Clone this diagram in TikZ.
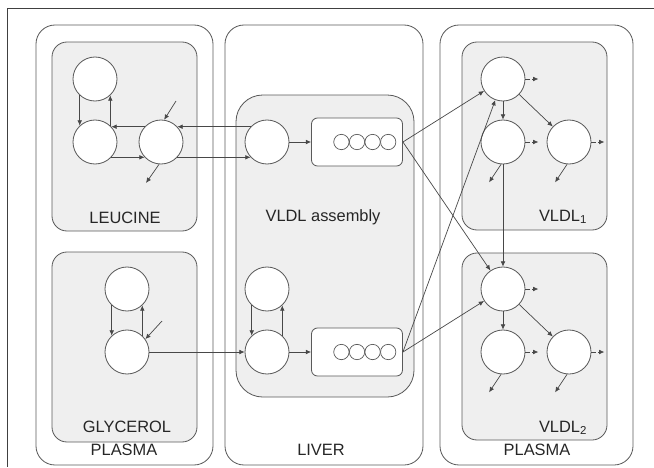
\documentclass[tikz,border=0pt]{standalone}
\usepackage{fontspec}
\setmainfont{Liberation Sans}
\usetikzlibrary{arrows.meta, positioning}
\definecolor{boxgray}{HTML}{EFEFEF}
\definecolor{linegray}{HTML}{5A5A5A}

\tikzset{
  pool/.style={circle, draw=linegray, fill=white, line width=0.7pt, minimum size=1.32cm, inner sep=0pt},
  bead/.style={circle, draw=linegray, fill=white, line width=0.6pt, minimum size=0.46cm, inner sep=0pt},
  particle/.style={rectangle, rounded corners=0.18cm, draw=linegray, fill=white, line width=0.7pt, minimum width=2.73cm, minimum height=1.44cm},
  flow/.style={draw=linegray!80!black, line width=0.6pt, -{Latex[length=4.5pt,width=4pt]}},
  loss/.style={flow, dash pattern=on 3.5pt off 2.5pt},
  panel/.style={draw=linegray, line width=0.7pt, rounded corners=0.57cm},
  compartment/.style={draw=linegray, fill=boxgray, line width=0.7pt, rounded corners=0.45cm},
  tag/.style={font=\fontsize{14}{16}\selectfont, text=black!85}
}

\begin{document}
\begin{tikzpicture}[x=0.03cm, y=-0.03cm]
        \useasboundingbox (0,0) rectangle (654,467);
        \draw[black!75, line width=0.8pt] (654,8) -- (7,8) -- (7,467);

        % plasma, liver, plasma
        \draw[panel] (36,25) rectangle (213,465);
        \draw[panel] (225,25) rectangle (423,465);
        \draw[panel] (440,25) rectangle (633,465);

        \draw[compartment] (52,42) rectangle (197,231);
        \draw[compartment] (52,252) rectangle (197,442);
        \draw[compartment, rounded corners=0.8cm] (236,95) rectangle (414,397);
        \draw[compartment] (462,42) rectangle (607,230);
        \draw[compartment] (462,253) rectangle (607,440);

        \node[tag] (leulabel) at (125,218) {LEUCINE};
        \node[tag] (glylabel) at (127,427) {GLYCEROL};
        \node[tag] (plasmaleft) at (124,450) {PLASMA};
        \node[tag] (asmlabel) at (323,217) {VLDL assembly};
        \node[tag] (liverlabel) at (321,450) {LIVER};
        \node[tag] (vonelabel) at (563,217) {VLDL\textsubscript{1}};
        \node[tag] (vtwolabel) at (563,428) {VLDL\textsubscript{2}};
        \node[tag] (plasmaright) at (537,450) {PLASMA};

        % leucine
        \node[pool] (lt) at (95,79) {};
        \node[pool] (ll) at (95,142) {};
        \node[pool] (lr) at (161,142) {};
        \coordinate (leuin) at (176,101);
        \coordinate (leuout) at (146,183);

        % glycerol
        \node[pool] (gt) at (127,289) {};
        \node[pool] (gb) at (127,352) {};
        \coordinate (glyin) at (162,321);

        % liver
        \node[pool] (lv) at (267,142) {};
        \node[pool] (lg) at (267,289) {};
        \node[pool] (lh) at (267,352) {};
        \node[particle] (ra) at (357,142) {};
        \node[particle] (rb) at (357,352) {};
        \foreach \i in {1,...,4} {
            \node[bead] (pa\i) at ({341.4+15.6*(\i-1)},142) {};
            \node[bead] (pb\i) at ({341.4+15.6*(\i-1)},352) {};
        }

        % VLDL1 and VLDL2
        \node[pool] (v1a) at (503,79) {};
        \node[pool] (v1b) at (503,142) {};
        \node[pool] (v1c) at (569,142) {};
        \node[pool] (v2a) at (503,289) {};
        \node[pool] (v2b) at (503,352) {};
        \node[pool] (v2c) at (569,352) {};

        \draw[flow] (lt.227) -- (ll.133);
        \draw[flow] (ll.47) -- (lt.313);
        \draw[flow] (lv.137) -- (lr.43);
        \draw[flow] (lr.137) -- (ll.43);
        \draw[flow] (ll.317) -- (lr.223);
        \draw[flow] (lr.317) -- (lv.223);
        \draw[flow] (leuin) -- (lr.82);
        \draw[flow] (lr.265) -- (leuout);

        \draw[flow] (gt.227) -- (gb.133);
        \draw[flow] (gb.47) -- (gt.313);
        \draw[flow] (glyin) -- (gb.35);
        \draw[flow] (gb) -- (lh);

        \draw[flow] (lg.227) -- (lh.133);
        \draw[flow] (lh.47) -- (lg.313);
        \draw[flow] (lv) -- (ra);
        \draw[flow] (lh) -- (rb);

        \draw[flow] (ra.east) -- (v1a);
        \draw[flow] (ra.east) -- (v2a);
        \draw[flow] (rb.east) -- (v1a);
        \draw[flow] (rb.east) -- (v2a);

        \draw[flow] (v1a) -- (v1b);
        \draw[flow] (v1a) -- (v1c);
        \draw[flow] (v1b) -- (v2a);
        \draw[flow] (v2a) -- (v2b);
        \draw[flow] (v2a) -- (v2c);

        \foreach \p in {v1a,v1b,v1c,v2a,v2b,v2c}
            \draw[loss] (\p.east) -- ++(13,0);
        \foreach \p in {v1b,v1c,v2b,v2c}
            \draw[flow] (\p.265) -- ++(-12,18);
\end{tikzpicture}
\end{document}
